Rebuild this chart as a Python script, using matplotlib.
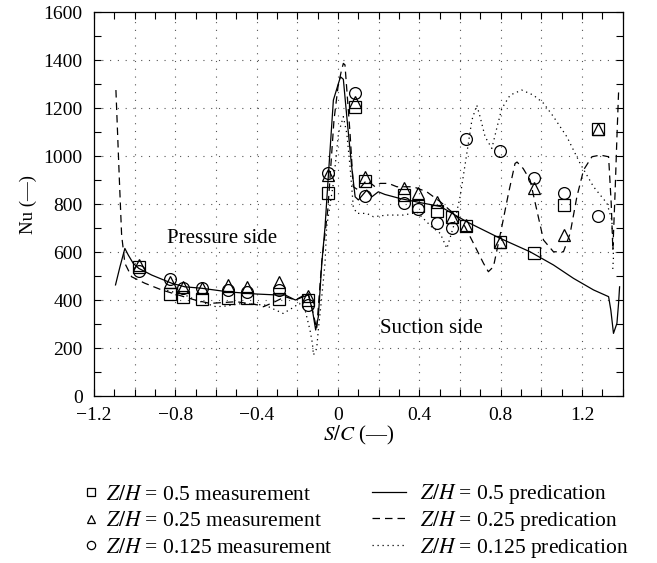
import matplotlib
matplotlib.use("Agg")
import matplotlib.pyplot as plt
from matplotlib.ticker import MultipleLocator
import numpy as np

plt.rcParams['font.family'] = ['Liberation Serif', 'DejaVu Serif']
plt.rcParams['mathtext.fontset'] = 'stix'

# ---- measurement data ----
s_meas = [-0.98, -0.826, -0.76, -0.67, -0.54, -0.45, -0.29, -0.15, -0.05, 0.084,
          0.133, 0.325, 0.395, 0.485, 0.559, 0.628, 0.797, 0.961, 1.113, 1.277]
nu_sq_05 = [537, 425, 414, 404, 410, 410, 404, 400, 847, 1203,
            896, 837, 792, 772, 744, 710, 640, 597, 796, 1111]
nu_tri_025 = [546, 475, 453, 449, 462, 455, 476, 417, 921, 1225,
              914, 865, 845, 810, 747, 712, 643, 865, 671, 1111]
nu_circ_0125 = [520, 486, 449, 449, 442, 435, 442, 379, 930, 1261,
                833, 805, 778, 722, 699, 1069, 1022, 910, 845, 750]

# ---- prediction Z/H = 0.5 ----
s_pred_05 = [-1.094, -1.072, -1.048, -1.031, -1.007, -0.98, -0.916, -0.818, -0.753, -0.67,
             -0.54, -0.40, -0.30, -0.26, -0.21, -0.17, -0.146, -0.126, -0.11, -0.097,
             -0.08, -0.064, -0.048, -0.023, 0.002, 0.012, 0.026, 0.043, 0.067, 0.084,
             0.10, 0.141, 0.166, 0.198, 0.23, 0.305, 0.403, 0.502, 0.633, 0.797,
             0.944, 1.059, 1.158, 1.256, 1.33, 1.341, 1.354, 1.371, 1.379, 1.384]
nu_pred_05 = [463, 539, 615, 587, 553, 532, 504, 470, 455, 449,
              434, 425, 421, 421, 400, 414, 421, 358, 275, 330,
              553, 705, 914, 1233, 1303, 1330, 1320, 1164, 955, 830,
              817, 858, 830, 851, 840, 823, 806, 790, 726, 657,
              601, 546, 490, 442, 414, 358, 261, 303, 386, 455]

# ---- prediction Z/H = 0.25 ----
s_pred_025 = [-1.092, -1.075, -1.064, -1.048, -1.015, -0.95, -0.867, -0.786, -0.703, -0.63,
              -0.50, -0.39, -0.367, -0.31, -0.26, -0.21, -0.18, -0.146, -0.13, -0.105,
              -0.08, -0.05, -0.02, 0.0, 0.015, 0.026, 0.034, 0.059, 0.075, 0.10,
              0.141, 0.182, 0.207, 0.248, 0.289, 0.37, 0.436, 0.502, 0.567, 0.616,
              0.666, 0.715, 0.739, 0.764, 0.805, 0.838, 0.87, 0.88, 0.91, 0.944,
              0.977, 1.01, 1.059, 1.108, 1.141, 1.174, 1.207, 1.248, 1.289, 1.33,
              1.343, 1.351, 1.362, 1.371, 1.379]
nu_pred_025 = [1275, 900, 671, 553, 497, 470, 442, 421, 400, 386,
               393, 379, 372, 393, 414, 400, 414, 428, 372, 280,
               560, 780, 1150, 1290, 1350, 1386, 1380, 1094, 872, 858,
               900, 872, 886, 886, 872, 872, 851, 810, 761, 719,
               636, 553, 518, 539, 705, 845, 969, 975, 948, 900,
               775, 650, 601, 601, 678, 830, 942, 997, 1004, 997,
               800, 608, 850, 1080, 1265]

# ---- prediction Z/H = 0.125 ----
s_pred_0125 = [-0.84, -0.75, -0.70, -0.60, -0.55, -0.47, -0.36, -0.27, -0.228, -0.19,
               -0.162, -0.138, -0.126, -0.121, -0.105, -0.097, -0.08, -0.064, -0.056, -0.023,
               0.002, 0.026, 0.043, 0.059, 0.075, 0.092, 0.141, 0.174, 0.24, 0.32,
               0.39, 0.46, 0.502, 0.535, 0.567, 0.60, 0.633, 0.658, 0.682, 0.698,
               0.723, 0.756, 0.78, 0.805, 0.846, 0.903, 0.96, 1.01, 1.059, 1.125,
               1.19, 1.256, 1.322, 1.346, 1.354, 1.35]
nu_pred_0125 = [440, 420, 400, 372, 375, 386, 379, 344, 365, 386,
                358, 275, 219, 171, 198, 275, 414, 553, 705, 886,
                1094, 1164, 1094, 955, 789, 761, 761, 747, 754, 754,
                765, 705, 678, 615, 705, 830, 1011, 1150, 1212, 1164,
                1080, 1032, 1115, 1198, 1254, 1275, 1254, 1220, 1164, 1080,
                969, 872, 803, 733, 580, 522]

x_major = [-1.2, -0.8, -0.4, 0, 0.4, 0.8, 1.2]
x_labels = ['\u22121.2', '\u22120.8', '\u22120.4', '0', '0.4', '0.8', '1.2']
y_major = [0, 200, 400, 600, 800, 1000, 1200, 1400, 1600]

meas_labels = [r'$Z/H$ = 0.5 measurement', r'$Z/H$ = 0.25 measurement',
               r'$Z/H$ = 0.125 measurement']
pred_labels = [r'$Z/H$ = 0.5 predication', r'$Z/H$ = 0.25 predication',
               r'$Z/H$ = 0.125 predication']

fig = plt.figure(figsize=(6.57, 5.63), dpi=100)
ax = fig.add_axes([0.143, 0.2966, 0.805, 0.682])

ax.set_xlim(-1.2, 1.4)
ax.set_ylim(0, 1600)

# grid
for gx in np.arange(-1.0, 1.31, 0.2):
    ax.axvline(gx, color='#555555', lw=0.8, ls=(0, (1, 6)), zorder=0)
for gy in y_major[1:-1]:
    ax.axhline(gy, color='#555555', lw=0.8, ls=(0, (1, 6)), zorder=0)

l1, = ax.plot(s_pred_05, nu_pred_05, color='black', lw=0.9, ls='-')
l2, = ax.plot(s_pred_025, nu_pred_025, color='black', lw=0.9, ls=(0, (6, 4)))
l3, = ax.plot(s_pred_0125, nu_pred_0125, color='black', lw=0.9, ls=(0, (1, 3)))

m1, = ax.plot(s_meas, nu_sq_05, ls='none', marker='s', ms=8, mfc='none', mec='black', mew=0.9)
m2, = ax.plot(s_meas, nu_tri_025, ls='none', marker='^', ms=8.5, mfc='none', mec='black', mew=0.9)
m3, = ax.plot(s_meas, nu_circ_0125, ls='none', marker='o', ms=8.5, mfc='none', mec='black', mew=0.9)

ax.text(-0.57, 658, 'Pressure side', fontsize=15, ha='center', va='center')
ax.text(0.457, 283, 'Suction side', fontsize=15, ha='center', va='center')

ax.set_xticks(x_major)
ax.set_xticklabels(x_labels)
ax.set_yticks(y_major)
ax.xaxis.set_minor_locator(MultipleLocator(0.1))
ax.yaxis.set_minor_locator(MultipleLocator(100))
ax.tick_params(which='both', direction='in', top=True, right=True, length=5, width=0.8,
               labelsize=14)
ax.tick_params(axis='x', which='major', pad=8)
ax.tick_params(axis='y', which='major', pad=8)
for sp in ax.spines.values():
    sp.set_linewidth(0.9)

ax.set_xlabel('$S/C$ (\u2014)', fontsize=15, labelpad=0)
ax.set_ylabel('Nu (\u2014)', fontsize=13.5, labelpad=5)

leg1 = fig.legend([m1, m2, m3], meas_labels, frameon=False, fontsize=15.5,
                  loc='center left', bbox_to_anchor=(0.1218, 0.0746),
                  markerscale=0.7, handlelength=1.0, handletextpad=0.21,
                  labelspacing=0.3, borderpad=0, borderaxespad=0)
leg2 = fig.legend([l1, l2, l3], pred_labels, frameon=False, fontsize=15.5,
                  loc='center left', bbox_to_anchor=(0.566, 0.0746),
                  handlelength=1.58, handletextpad=0.65,
                  labelspacing=0.12, borderpad=0, borderaxespad=0)

fig.savefig('out.png', dpi=100)
